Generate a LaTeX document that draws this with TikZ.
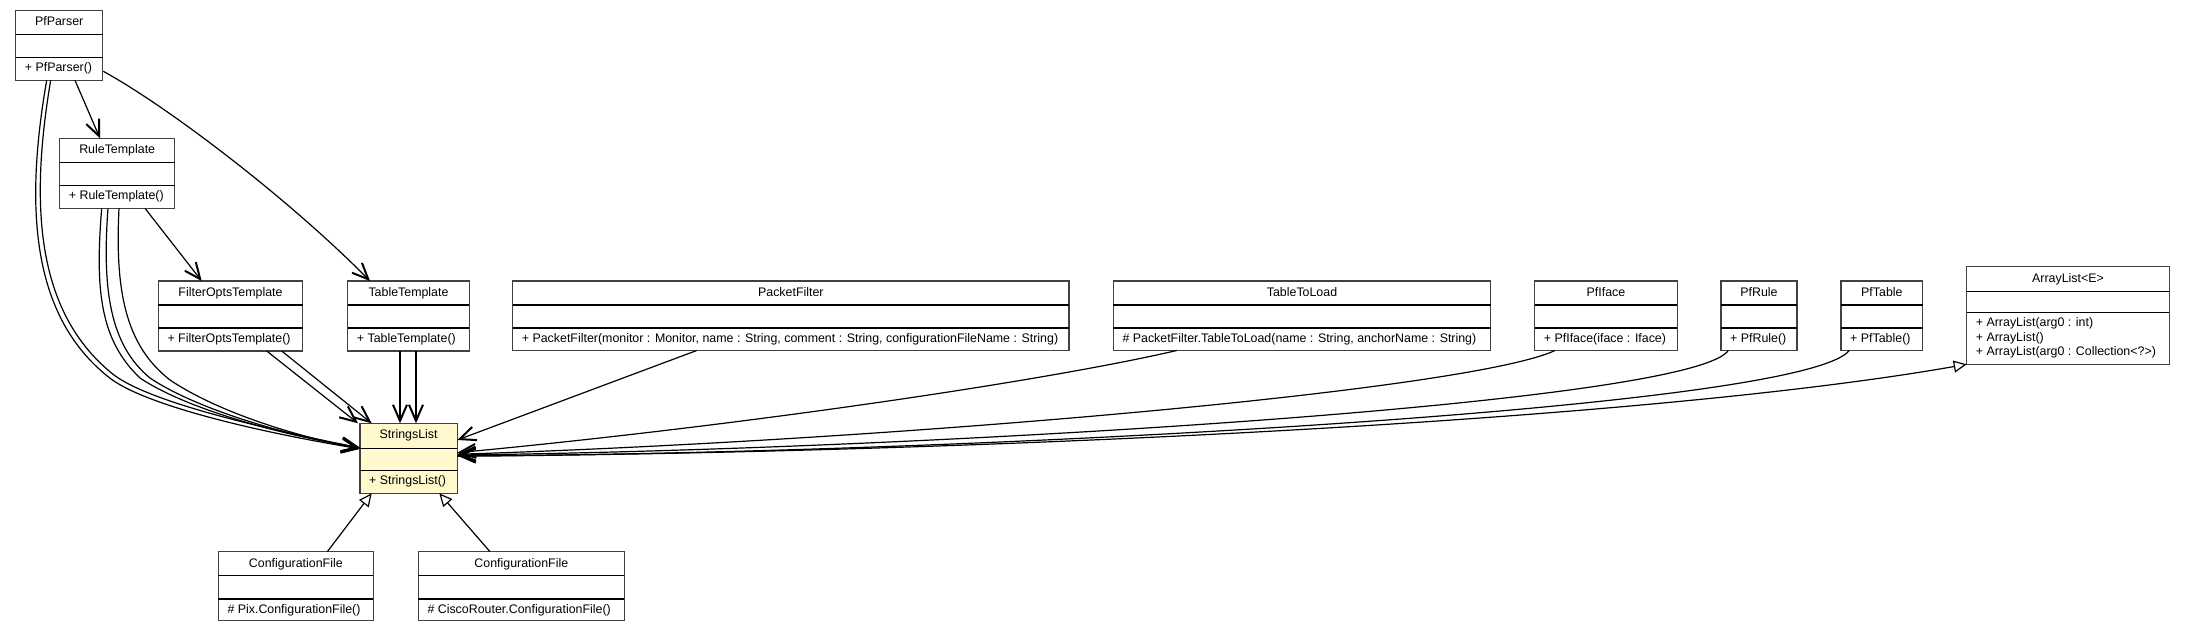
\documentclass[tikz,border=0pt]{standalone}
\usepackage{fontspec}
\setmainfont{Liberation Sans}
\usetikzlibrary{arrows.meta,calc}
\definecolor{lemon}{RGB}{255,249,205}
\tikzset{
  umlbox/.style={draw=black!75, line width=1.5pt, fill=white, inner sep=0pt, outer sep=0pt, anchor=north west},
  divider/.style={line width=1.5pt, black},
  ctitle/.style={anchor=base, inner sep=0pt, font=\fontsize{12.4}{14.5}\selectfont},
  cmeth/.style={anchor=base west, inner sep=0pt, font=\fontsize{12.4}{14.5}\selectfont},
  dep/.style={line width=1.2pt, -{Straight Barb[length=16pt,width=14pt,line width=2pt]}},
  inh/.style={line width=1.2pt, -{Triangle[open,length=13pt,width=12pt,line width=1.2pt,fill=white]}},
}
\newcommand{\umlclass}[9]{%
  \node[#1, minimum width=#4pt, minimum height=#5pt] (#2) at #3 {};
  \draw[divider] ($(#2.north west)+(0,#6)$) -- ($(#2.north east)+(0,#6)$);
  \draw[divider] ($(#2.north west)+(0,#7)$) -- ($(#2.north east)+(0,#7)$);
  \node[ctitle] (#2-t) at ($(#2.north)+(0,15.5)$) {#8};
  \node[cmeth] (#2-m) at ($(#2.north west)+(9,#7+14)$) {#9};
}
\begin{document}
\begin{tikzpicture}[x=1pt,y=-1pt]
\fill[white] (0,0) rectangle (2185,632);
\useasboundingbox (0,0) rectangle (2185,632);

\umlclass{umlbox}{pfparser}{(15.7,10.3)}{87}{70}{24}{47}{PfParser}{+ PfParser()}
\umlclass{umlbox}{ruletemplate}{(59.7,138.3)}{115}{70}{24}{47}{RuleTemplate}{+ RuleTemplate()}
\umlclass{umlbox}{filteropts}{(158.3,281)}{144.4}{70}{24}{47}{FilterOptsTemplate}{+ FilterOptsTemplate()}
\umlclass{umlbox}{tabletemplate}{(347.7,281)}{121.6}{70}{24}{47}{TableTemplate}{+ TableTemplate()}
\umlclass{umlbox}{packetfilter}{(512.7,281)}{556.3}{69.5}{24}{47}{PacketFilter}{+ PacketFilter(monitor : Monitor, name : String, comment : String, configurationFileName : String)}
\umlclass{umlbox}{tabletoload}{(1113.3,281)}{377.4}{69.5}{24}{47}{TableToLoad}{\# PacketFilter.TableToLoad(name : String, anchorName : String)}
\umlclass{umlbox}{pfiface}{(1534.7,281)}{142.6}{69.5}{24}{47}{PfIface}{+ PfIface(iface : Iface)}
\umlclass{umlbox}{pfrule}{(1721,281)}{76}{69.5}{24}{47}{PfRule}{+ PfRule()}
\umlclass{umlbox}{pftable}{(1841,281)}{81.7}{69.5}{24}{47}{PfTable}{+ PfTable()}
\umlclass{umlbox}{arraylist}{(1966.7,266.7)}{202.6}{97.6}{25}{46}{ArrayList<E>}{+ ArrayList(arg0 : int)}
\node[cmeth] (arraylist-m2) at ($(arraylist.north west)+(9,74.5)$) {+ ArrayList()};
\node[cmeth] (arraylist-m3) at ($(arraylist.north west)+(9,89)$) {+ ArrayList(arg0 : Collection<?>)};
\umlclass{umlbox,fill=lemon}{stringslist}{(360,423.3)}{97.3}{70}{25}{47}{StringsList}{+ StringsList()}
\umlclass{umlbox}{cfpix}{(218.3,551.7)}{155}{69}{24}{47.3}{ConfigurationFile}{\# Pix.ConfigurationFile()}
\umlclass{umlbox}{cfcisco}{(418.3,551.7)}{206}{69}{24}{47.3}{ConfigurationFile}{\# CiscoRouter.ConfigurationFile()}

% PfParser dependencies
\draw[dep] ($(pfparser.south west)+(59.3,0)$) -- ($(ruletemplate.north west)+(40.3,0)$);
\draw[dep] ($(pfparser.south east)+(0.6,-9)$) .. controls (170,108) and (290,200) .. ($(tabletemplate.north west)+(22.3,0)$);
\draw[dep] ($(pfparser.south west)+(35,0)$) .. controls (27,220) and (42,318) .. (114,375) .. controls (150,402) and (260,428) .. ($(stringslist.north west)+(0,24.5)$);
\draw[dep] ($(pfparser.south west)+(31,0)$) .. controls (22,222) and (37,322) .. (111,379) .. controls (148,406) and (258,432) .. ($(stringslist.north west)+(0,25.5)$);

% RuleTemplate dependencies
\draw[dep] ($(ruletemplate.south west)+(42,0)$) .. controls (95,290) and (100,340) .. (140,378) .. controls (180,405) and (265,432) .. ($(stringslist.north west)+(0,24.5)$);
\draw[dep] ($(ruletemplate.south west)+(48.3,0)$) .. controls (102,290) and (110,345) .. (150,378) .. controls (190,405) and (270,432) .. ($(stringslist.north west)+(0,25)$);
\draw[dep] ($(ruletemplate.south west)+(59.3,0)$) .. controls (115,290) and (125,345) .. (170,380) .. controls (210,407) and (280,433) .. ($(stringslist.north west)+(0,25.5)$);
\draw[dep] ($(ruletemplate.south west)+(85.3,0)$) -- ($(filteropts.north west)+(43.4,0)$);

% FilterOptsTemplate, TableTemplate
\draw[dep] ($(filteropts.south west)+(108.4,0)$) -- ($(stringslist.north west)+(-2,0)$);
\draw[dep] ($(filteropts.south west)+(123.4,0)$) -- ($(stringslist.north west)+(11.7,0)$);
\draw[dep] ($(tabletemplate.south west)+(52.3,0)$) -- ($(stringslist.north west)+(40,0)$);
\draw[dep] ($(tabletemplate.south west)+(68.3,0)$) -- ($(stringslist.north west)+(56,0)$);

% right side
\draw[dep] ($(packetfilter.south west)+(184,0)$) -- ($(stringslist.north east)+(0,16.7)$);
\draw[dep] ($(tabletoload.south west)+(63.4,0)$) .. controls (1050,380) and (750,425) .. ($(stringslist.north east)+(0,29.4)$);
\draw[dep] ($(pfiface.south west)+(20.3,0)$) .. controls (1470,390) and (900,440) .. ($(stringslist.north east)+(0,31)$);
\draw[dep] ($(pfrule.south west)+(7.3,0)$) .. controls (1690,405) and (900,450) .. ($(stringslist.north east)+(0,31.7)$);
\draw[dep] ($(pftable.south west)+(8.3,0)$) .. controls (1800,412) and (900,455) .. ($(stringslist.north east)+(0,32.4)$);
\draw[inh] ($(stringslist.north east)+(0,33)$) .. controls (1000,452) and (1650,420) .. (arraylist.south west);

% generalizations
\draw[inh] ($(cfpix.north west)+(109,0)$) -- ($(stringslist.south west)+(11.7,0)$);
\draw[inh] ($(cfcisco.north west)+(71.7,0)$) -- ($(stringslist.south west)+(79.3,0)$);
\end{tikzpicture}
\end{document}
